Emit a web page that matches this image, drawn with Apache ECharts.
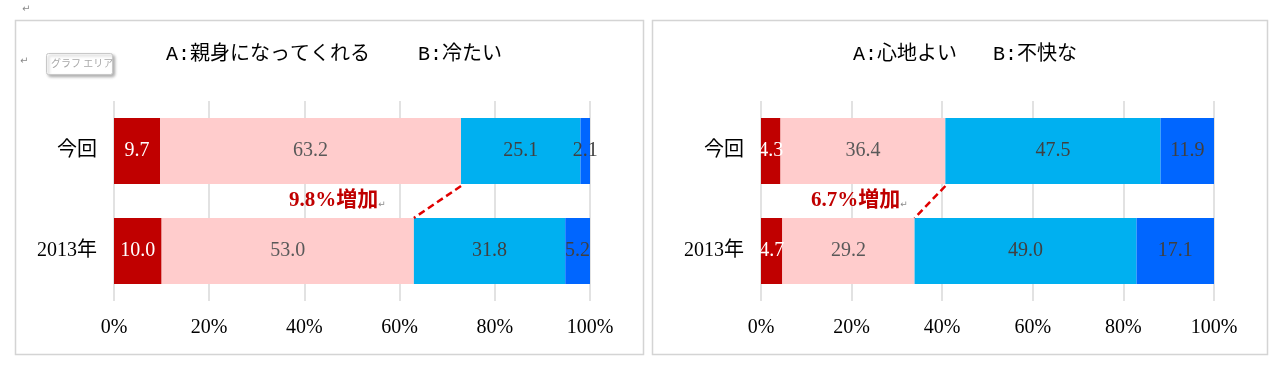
<!DOCTYPE html>
<html>
<head>
<meta charset="utf-8">
<script src="https://cdn.jsdelivr.net/npm/echarts@6/dist/echarts.min.js"></script>
<style>
html,body{margin:0;padding:0;background:#fff;}
#chart{width:1276px;height:367px;}
</style>
</head>
<body>
<div id="chart"></div>
<script>
// ---- data ----
const categories = ['今回', '2013年'];
const seriesNames = ['A', 'やや A', 'やや B', 'B'];
// left chart: A:親身になってくれる  B:冷たい
const leftTitle = 'A:親身になってくれる    B:冷たい';
const leftA  = [9.7, 10.0];
const leftA2 = [63.2, 53.0];
const leftB2 = [25.1, 31.8];
const leftB  = [2.1, 5.2];
const leftNote = '9.8%増加';
// right chart: A:心地よい  B:不快な
const rightTitle = 'A:心地よい   B:不快な';
const rightA  = [4.3, 4.7];
const rightA2 = [36.4, 29.2];
const rightB2 = [47.5, 49.0];
const rightB  = [11.9, 17.1];
const rightNote = '6.7%増加';
const tickLabels = ['0%', '20%', '40%', '60%', '80%', '100%'];

const colors = ['#C00000', '#FFCCCC', '#00B0F0', '#0066FF'];
const labelColors = ['#FFFFFF', '#595959', '#404040', '#404040'];
const serif = '"Liberation Serif","Noto Sans CJK JP"';

const chart = echarts.init(document.getElementById('chart'), null, {renderer: 'canvas'});

function makeBars(gridIdx, arrays) {
  return arrays.map((arr, i) => ({
    name: seriesNames[i],
    type: 'bar',
    stack: 'g' + gridIdx,
    xAxisIndex: gridIdx,
    yAxisIndex: gridIdx * 2,
    barWidth: 66,
    itemStyle: {color: colors[i]},
    label: {
      show: true,
      position: 'inside',
      color: labelColors[i],
      fontFamily: serif,
      fontSize: 20,
      formatter: p => Number(p.value).toFixed(1)
    },
    data: arr,
    z: 2
  }));
}

function makeLine(gridIdx, a, a2) {
  return {
    type: 'line',
    xAxisIndex: gridIdx,
    yAxisIndex: gridIdx * 2 + 1,
    symbol: 'none',
    silent: true,
    lineStyle: {color: '#E00000', width: 2.5, type: [7, 4]},
    data: [[+(a[0] + a2[0]).toFixed(1), 0.85], [+(a[1] + a2[1]).toFixed(1), 1.17]],
    z: 5
  };
}

function xAxis(gridIdx) {
  return {
    type: 'value', gridIndex: gridIdx, min: 0, max: 100, interval: 20,
    axisLine: {show: false}, axisTick: {show: false},
    splitLine: {show: true, lineStyle: {color: '#D9D9D9', width: 1.5}},
    axisLabel: {
      margin: 17, color: '#000', fontFamily: serif, fontSize: 20,
      formatter: v => tickLabels[Math.round(v / 20)]
    }
  };
}
function yAxes(gridIdx) {
  return [{
    type: 'category', gridIndex: gridIdx, data: categories, inverse: true,
    axisLine: {show: false}, axisTick: {show: false},
    axisLabel: {margin: 17, color: '#000', fontFamily: serif, fontSize: 20}
  }, {
    type: 'value', gridIndex: gridIdx, min: 0, max: 2, inverse: true, show: false
  }];
}

const option = {
  animation: false,
  backgroundColor: '#fff',
  title: [{
    text: leftTitle, left: 329, top: 40, textAlign: 'center',
    textStyle: {fontFamily: '"Liberation Mono","Noto Sans CJK JP"', fontSize: 20, fontWeight: 'normal', color: '#000'}
  }, {
    text: rightTitle, left: 960, top: 40, textAlign: 'center',
    textStyle: {fontFamily: '"Liberation Mono","Noto Sans CJK JP"', fontSize: 20, fontWeight: 'normal', color: '#000'}
  }],
  grid: [
    {left: 114, top: 101, width: 476, height: 200},
    {left: 761, top: 101, width: 453, height: 200}
  ],
  xAxis: [xAxis(0), xAxis(1)],
  yAxis: [...yAxes(0), ...yAxes(1)],
  series: [
    ...makeBars(0, [leftA, leftA2, leftB2, leftB]),
    makeLine(0, leftA, leftA2),
    ...makeBars(1, [rightA, rightA2, rightB2, rightB]),
    makeLine(1, rightA, rightA2)
  ],
  graphic: [
    {type: 'rect', shape: {x: 15.5, y: 20.5, width: 628, height: 334}, style: {fill: 'none', stroke: '#D4D4D4', lineWidth: 1.5}, silent: true},
    {type: 'rect', shape: {x: 652.5, y: 20.5, width: 615, height: 334}, style: {fill: 'none', stroke: '#D4D4D4', lineWidth: 1.5}, silent: true},
    {type: 'text', left: 22, top: 4, style: {text: '↵', fill: '#8A8A8A', font: '10px "DejaVu Sans"'}},
    {type: 'text', left: 20, top: 56, style: {text: '↵', fill: '#8A8A8A', font: '10px "DejaVu Sans"'}},
    {type: 'rect', shape: {x: 46.5, y: 53.5, width: 66, height: 21, r: 2},
     style: {fill: '#FFFFFF', stroke: '#C8C8C8', lineWidth: 1, shadowBlur: 3, shadowOffsetX: 2, shadowOffsetY: 2, shadowColor: 'rgba(0,0,0,0.3)'}},
    {type: 'text', left: 51, top: 58, style: {text: 'グラフ エリア', fill: '#A8A8A8', font: '10px "Noto Sans CJK JP"'}},
    {type: 'text', left: 289, top: 190, z: 10,
     style: {text: leftNote + '{s|↵}', fill: '#C00000', font: 'bold 21px "Liberation Serif","Noto Sans CJK JP"',
             rich: {s: {fontSize: 9, fontWeight: 'normal', fill: '#8A8A8A', fontFamily: 'DejaVu Sans', padding: [9, 0, 0, 0]}}}},
    {type: 'text', left: 811, top: 190, z: 10,
     style: {text: rightNote + '{s|↵}', fill: '#C00000', font: 'bold 21px "Liberation Serif","Noto Sans CJK JP"',
             rich: {s: {fontSize: 9, fontWeight: 'normal', fill: '#8A8A8A', fontFamily: 'DejaVu Sans', padding: [9, 0, 0, 0]}}}}
  ]
};
chart.setOption(option);
</script>
</body>
</html>
